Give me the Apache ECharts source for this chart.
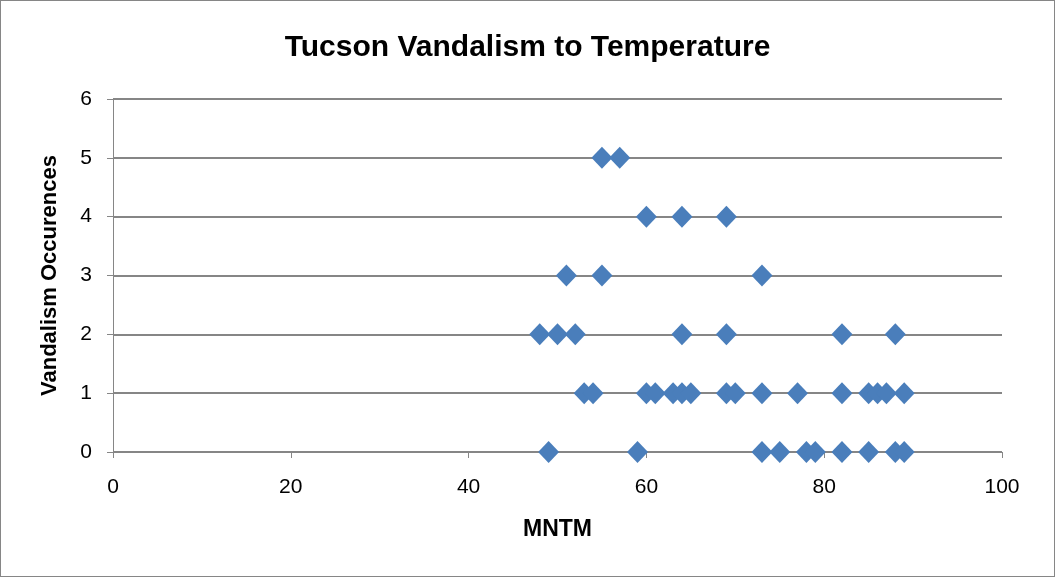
<!DOCTYPE html>
<html>
<head>
<meta charset="utf-8">
<script src="https://cdn.jsdelivr.net/npm/echarts@6/dist/echarts.min.js"></script>
<style>
    html, body { margin: 0; padding: 0; background: #fff; }
    #chart { width: 1053px; height: 575px; border: 1px solid #868686; }
</style>
</head>
<body>
<div id="chart"></div>
<script>
// MNTM (temperature) readings grouped by number of vandalism occurrences
var occ0 = [49, 59, 73, 75, 78, 79, 82, 85, 88, 89];
var occ1 = [53, 54, 60, 61, 63, 64, 65, 69, 70, 73, 77, 82, 85, 86, 87, 89];
var occ2 = [48, 50, 52, 64, 69, 82, 88];
var occ3 = [51, 55, 73];
var occ4 = [60, 64, 69];
var occ5 = [55, 57];
var xTicks = [0, 20, 40, 60, 80, 100];
var yTicks = [0, 1, 2, 3, 4, 5, 6];

var points = [];
[occ0, occ1, occ2, occ3, occ4, occ5].forEach(function (list, count) {
    for (var i = 0; i < list.length; i++) {
        points.push([list[i], count]);
    }
});

var chart = echarts.init(document.getElementById('chart'));
var font = 'Liberation Sans, sans-serif';

var option = {
    animation: false,
    title: {
        text: 'Tucson Vandalism to Temperature',
        left: 'center',
        top: 27,
        textStyle: { fontFamily: font, fontSize: 30, fontWeight: 'bold', color: '#000' }
    },
    grid: { left: 112, right: 52, top: 98, bottom: 124 },
    xAxis: {
        type: 'value',
        min: xTicks[0],
        max: xTicks[xTicks.length - 1],
        interval: 20,
        name: 'MNTM',
        nameLocation: 'middle',
        nameGap: 66,
        nameTextStyle: { fontFamily: font, fontSize: 23, fontWeight: 'bold', color: '#000' },
        axisLine: { show: true, lineStyle: { color: '#868686', width: 1 } },
        axisTick: { show: true, length: 6, lineStyle: { color: '#868686' } },
        axisLabel: { fontFamily: font, fontSize: 21, color: '#000', margin: 25 },
        splitLine: { show: false }
    },
    yAxis: {
        type: 'value',
        min: yTicks[0],
        max: yTicks[yTicks.length - 1],
        interval: 1,
        name: 'Vandalism Occurences',
        nameLocation: 'middle',
        nameGap: 52,
        nameTextStyle: { fontFamily: font, fontSize: 22, fontWeight: 'bold', color: '#000' },
        axisLine: { show: true, lineStyle: { color: '#868686', width: 1 } },
        axisTick: { show: true, length: 6, lineStyle: { color: '#868686' } },
        axisLabel: { fontFamily: font, fontSize: 21, color: '#000', margin: 21 },
        splitLine: { show: true, lineStyle: { color: '#868686', width: 2 } }
    },
    series: [
        {
            type: 'scatter',
            symbol: 'diamond',
            symbolSize: [21, 22],
            itemStyle: { color: '#4a7ebb', opacity: 1 },
            data: points
        }
    ]
};

chart.setOption(option);
</script>
</body>
</html>
